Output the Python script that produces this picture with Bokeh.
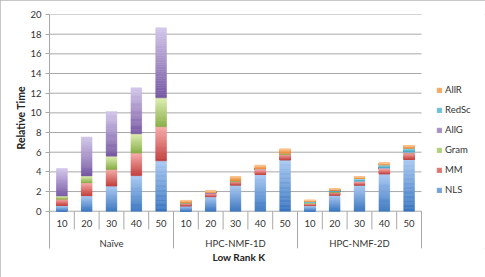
from bokeh.plotting import figure
from bokeh.models import Range1d, FixedTicker, Legend, LegendItem, Title
from bokeh.core.properties import value
from bokeh.embed import file_html
from bokeh.resources import INLINE

# ---------------- data ----------------
groups = ["Naïve", "HPC-NMF-1D", "HPC-NMF-2D"]
ranks = ["10", "20", "30", "40", "50"]
series = ["NLS", "MM", "Gram", "AllG", "RedSc", "AllR"]
y_ticks = [0, 2, 4, 6, 8, 10, 12, 14, 16, 18, 20]

nls = [0.58, 1.57, 2.56, 3.62, 5.13, 0.55, 1.48, 2.67, 3.73, 5.22, 0.57, 1.65, 2.67, 3.80, 5.26]
mm = [0.68, 1.33, 1.71, 2.29, 3.47, 0.30, 0.37, 0.43, 0.52, 0.62, 0.28, 0.33, 0.36, 0.55, 0.70]
gram = [0.28, 0.69, 1.33, 1.96, 2.93, 0.03, 0.03, 0.04, 0.05, 0.05, 0.04, 0.05, 0.05, 0.06, 0.06]
allg = [2.80, 3.96, 4.54, 4.68, 7.12, 0.02, 0.02, 0.02, 0.02, 0.03, 0.02, 0.02, 0.02, 0.02, 0.02]
redsc = [0.00, 0.00, 0.00, 0.00, 0.00, 0.00, 0.00, 0.00, 0.00, 0.00, 0.10, 0.12, 0.22, 0.30, 0.40]
allr = [0.00, 0.00, 0.00, 0.00, 0.00, 0.20, 0.18, 0.36, 0.35, 0.40, 0.10, 0.13, 0.20, 0.17, 0.23]
values = [nls, mm, gram, allg, redsc, allr]

# gradient colours (dark bottom -> light top) per series
dark = ["#3a76c0", "#c23f3c", "#88ad47", "#7759a3", "#3aa3c0", "#ee8a33"]
light = ["#a9c9f2", "#f6aaa8", "#dcedae", "#d2c6ea", "#9fdcec", "#fbc48e"]

FONT = "Lato"
GRID = "#a8a8a8"
TXT = "#333333"


def mix(c1, c2, t):
    a = [int(c1[i:i + 2], 16) for i in (1, 3, 5)]
    b = [int(c2[i:i + 2], 16) for i in (1, 3, 5)]
    return "#%02x%02x%02x" % tuple(round(a[k] + (b[k] - a[k]) * t) for k in range(3))


n_cat = len(groups) * len(ranks)
# plot area 49..421 px holds the 15 categories; the frame continues to the right edge
# so that the legend can sit there
x_end = n_cat * (485 - 49) / (421 - 49)
p = figure(width=485, height=277, output_backend="svg", toolbar_location=None,
           x_range=Range1d(0, x_end), y_range=Range1d(-3.79, 20),
           min_border_left=49, min_border_right=0, min_border_top=14, min_border_bottom=29)
p.styles = {"outline": "1px solid #b4b4b4", "outline-offset": "-1px"}
p.outline_line_color = None
p.xaxis.visible = False
p.xgrid.visible = False
p.ygrid.visible = False

ya = p.yaxis[0]
ya.ticker = FixedTicker(ticks=y_ticks)
ya.minor_tick_line_color = None
ya.major_tick_in = 0
ya.major_tick_out = 4
ya.major_tick_line_color = GRID
ya.axis_line_color = GRID
ya.major_label_standoff = 4
ya.major_label_text_font = FONT
ya.major_label_text_font_size = "9.5px"
ya.major_label_text_color = TXT

# horizontal gridlines across the category area only
p.segment(x0=[0] * len(y_ticks), y0=y_ticks, x1=[n_cat] * len(y_ticks), y1=y_ticks,
          line_color=GRID, line_width=1)

# ---------------- stacked bars with vertical gradient ----------------
N = 40
BW = 0.43
renderers = []
cum = [0.0] * n_cat
for s, name in enumerate(series):
    xs, bs, ts, cs = [], [], [], []
    for i in range(n_cat):
        h = values[s][i]
        if h > 0:
            for k in range(N):
                xs.append(i + 0.5)
                bs.append(cum[i] + h * k / N)
                ts.append(cum[i] + h * (k + 1) / N)
                cs.append(mix(dark[s], light[s], k / (N - 1)))
        cum[i] += h
    r = p.vbar(x=xs, bottom=bs, top=ts, width=BW, fill_color=cs, line_color=cs, line_width=0.5)
    renderers.append(r)

# ---------------- category axis (Excel style, two levels) ----------------
short_x = [i for i in range(1, n_cat) if i % len(ranks) != 0]
long_x = [i for i in range(0, n_cat + 1) if i % len(ranks) == 0]
p.segment(x0=short_x, y0=[0] * len(short_x), x1=short_x, y1=[-1.86] * len(short_x),
          line_color=GRID, line_width=1)
p.segment(x0=long_x, y0=[0] * len(long_x), x1=long_x, y1=[-3.79] * len(long_x),
          line_color=GRID, line_width=1)

kx = [i + 0.5 for i in range(n_cat)]
klab = [ranks[i % len(ranks)] for i in range(n_cat)]
p.text(x=kx, y=[-1.25] * n_cat, text=klab, text_align="center", text_baseline="middle",
       text_font=value(FONT), text_font_size=value("9.5px"), text_color=TXT)
gx = [g * len(ranks) + len(ranks) / 2 for g in range(len(groups))]
p.text(x=gx, y=[-3.3] * len(groups), text=groups, text_align="center", text_baseline="middle",
       text_font=value(FONT), text_font_size=value("9.5px"), text_color=TXT)

# axis titles
p.add_layout(Title(text="Relative Time", align="left", offset=99, text_font=FONT,
                   text_font_size="10.5px", text_font_style="bold", text_color="#222222",
                   standoff=2), "left")
p.add_layout(Title(text="Low Rank K", align="left", offset=163, text_font=FONT,
                   text_font_size="10px", text_font_style="bold", text_color="#222222",
                   standoff=0), "below")

# ---------------- legend ----------------
items = [LegendItem(label=series[s], renderers=[renderers[s]], index=20)
         for s in reversed(range(len(series)))]
legend = Legend(items=items, location=(387, 52), margin=0, padding=5,
                glyph_width=6, glyph_height=6, label_standoff=3, spacing=7,
                label_height=13, label_text_font=FONT, label_text_font_size="9.5px",
                label_text_color=TXT, border_line_color=None, background_fill_alpha=0)
p.add_layout(legend, "center")

open("out.html", "w").write(file_html(p, INLINE))
